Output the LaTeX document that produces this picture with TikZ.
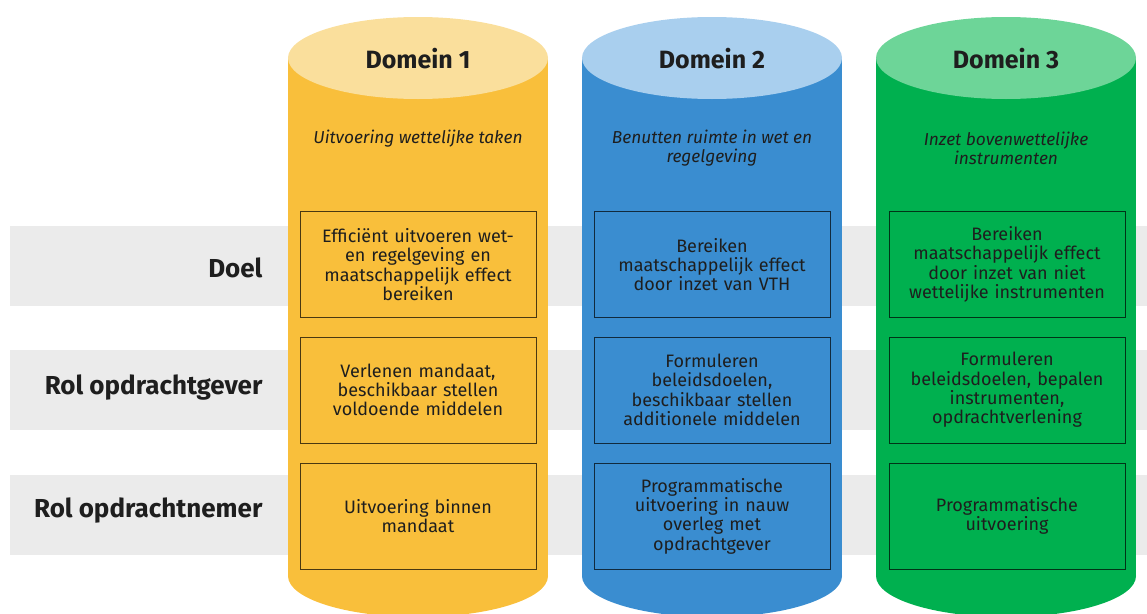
\documentclass[tikz,border=0pt]{standalone}
\usepackage{fontspec}
\setmainfont{Fira Sans}
\usepackage{tikz}
\definecolor{geel}{HTML}{F9BF3B}
\definecolor{geellicht}{HTML}{FADF9C}
\definecolor{blauw}{HTML}{3A8DD0}
\definecolor{blauwlicht}{HTML}{A9CFEE}
\definecolor{groen}{HTML}{00B04F}
\definecolor{groenlicht}{HTML}{6DD598}
\definecolor{band}{HTML}{EBEBEB}
\definecolor{inkt}{HTML}{1E1E1E}

\tikzset{
  vak/.style={draw=black, draw opacity=0.7, line width=0.9pt, minimum width=236pt, minimum height=106pt,
    text width=230pt, align=center, inner sep=0pt, text=inkt, font=\fontsize{18}{19.3}\selectfont},
  kop/.style={text=inkt, font=\bfseries\fontsize{25}{28}\selectfont},
  ondertitel/.style={text=inkt, align=center, font=\itshape\fontsize{17.3}{19}\selectfont},
  rij/.style={text=inkt, anchor=east, font=\bfseries\fontsize{26}{28}\selectfont}
}

\begin{document}
\begin{tikzpicture}[x=1pt,y=-1pt]
  \useasboundingbox (0,0) rectangle (1147,613);
  \clip (0,0) rectangle (1147,613);

  % grijze banden
  \fill[band] (10,226) rectangle (1147,306);
  \fill[band] (10,350) rectangle (1147,430);
  \fill[band] (10,475) rectangle (1147,555);

  \node[rij] (doel) at (266,268) {Doel};
  \node[rij] (gever) at (266,388) {Rol opdrachtgever};
  \node[rij] (nemer) at (266,511) {Rol opdrachtnemer};

  % cilinders
  \foreach \x/\kleur/\licht/\n in {418/geel/geellicht/1, 712/blauw/blauwlicht/2, 1006/groen/groenlicht/3}{
    \fill[\kleur] (\x-130,58) rectangle (\x+130,576);
    \fill[\kleur] (\x,576) ellipse [x radius=130, y radius=41];
    \fill[\licht] (\x,58) ellipse [x radius=130, y radius=41];
    \node[kop] (domein\n) at (\x,59) {Domein \n};
  }

  \node[ondertitel] (taak1) at (418,139) {Uitvoering wettelijke taken};
  \node[ondertitel] (taak2) at (712,148) {Benutten ruimte in wet en\\regelgeving};
  \node[ondertitel] (taak3) at (1006,148) {Inzet bovenwettelijke\\instrumenten};

  % domein 1
  \node[vak] (doel1) at (418,264.5) {Efficiënt uitvoeren wet-\\en regelgeving en\\maatschappelijk effect\\bereiken};
  \node[vak] (gever1) at (418,390) {Verlenen mandaat,\\beschikbaar stellen\\voldoende middelen};
  \node[vak] (nemer1) at (418,516) {Uitvoering binnen\\mandaat};

  % domein 2
  \node[vak] (doel2) at (712,264.5) {Bereiken\\maatschappelijk effect\\door inzet van VTH};
  \node[vak] (gever2) at (712,390) {Formuleren\\beleidsdoelen,\\beschikbaar stellen\\additionele middelen};
  \node[vak] (nemer2) at (712,516) {Programmatische\\uitvoering in nauw\\overleg met\\opdrachtgever};

  % domein 3
  \node[vak] (doel3) at (1007,264.5) {Bereiken\\maatschappelijk effect\\door inzet van niet\\wettelijke instrumenten};
  \node[vak] (gever3) at (1007,390) {Formuleren\\beleidsdoelen, bepalen\\instrumenten,\\opdrachtverlening};
  \node[vak] (nemer3) at (1007,516) {Programmatische\\uitvoering};
\end{tikzpicture}
\end{document}
